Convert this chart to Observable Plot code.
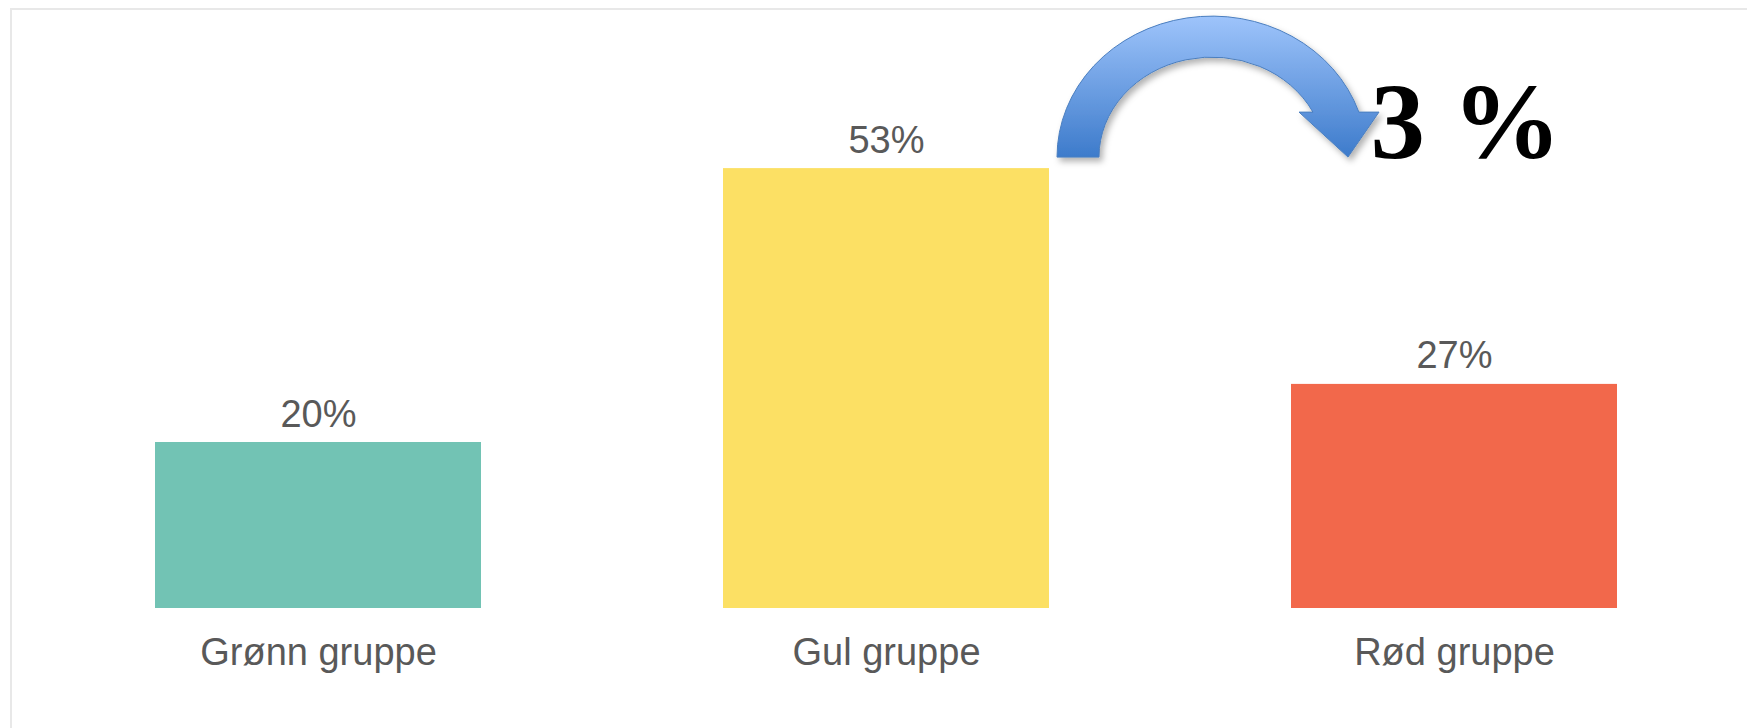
<!DOCTYPE html>
<html><head><meta charset="utf-8">
<script src="https://cdn.jsdelivr.net/npm/d3@7"></script>
<script src="https://cdn.jsdelivr.net/npm/@observablehq/plot@0.6"></script>
<style>
html,body{margin:0;padding:0;background:#fff;overflow:hidden;}
#wrap{position:relative;width:1747px;height:728px;overflow:hidden;}
#frame{position:absolute;left:10px;top:8px;width:1800px;height:800px;border-top:2px solid #e8e8e8;border-left:2px solid #e8e8e8;}
#chart{position:absolute;left:0;top:0;}
</style></head><body>
<div id="wrap"><div id="frame"></div><div id="chart"></div></div>
<script>
const groups = ["Grønn gruppe", "Gul gruppe", "Rød gruppe"];
const shares = [20, 53, 27];
const valueLabels = ["20%", "53%", "27%"];
const barColors = ["#72c3b4", "#fce064", "#f2684b"];
const changeLabel = ["3 %"];

const data = groups.map((g, i) => ({group: g, share: shares[i], label: valueLabels[i]}));
const annotation = [{group: "Rød gruppe", share: 53, label: changeLabel[0]}];

const plot = Plot.plot({
  width: 1747, height: 728,
  marginTop: 110, marginBottom: 120, marginLeft: 0, marginRight: 0,
  x: {domain: groups, range: [11, 1760], paddingInner: 0.4266, paddingOuter: 0.2515, label: null},
  y: {domain: [0, 60], axis: null},
  color: {domain: groups, range: barColors},
  style: {fontFamily: "'Liberation Sans', Arial, sans-serif", background: "transparent", overflow: "visible"},
  marks: [
    Plot.barY(data, {x: "group", y: "share", fill: "group"}),
    Plot.text(data, {x: "group", y: "share", text: "label", dy: -16, lineAnchor: "bottom", fontSize: 38, fill: "#595959"}),
    Plot.axisX({tickSize: 0, tickPadding: 30, fontSize: 38, color: "#595959", label: null}),
    Plot.text(annotation, {x: "group", y: "share", text: "label", dx: -84, dy: -11, textAnchor: "start", lineAnchor: "bottom",
      fontSize: 109, fontWeight: "bold", fontFamily: "'Liberation Serif', 'Times New Roman', serif", fill: "#000"})
  ]
});
document.getElementById("chart").appendChild(plot);

// curved block arrow from the yellow bar towards the red bar
const sx = plot.scale("x"), sy = plot.scale("y");
const ox = sx.apply("Gul gruppe") + sx.bandwidth;
const oy = sy.apply(53);
const cx = ox + 163, cy = oy - 11;
const rxO = 155, ryO = 141, rxI = 113, ryI = 100, rise = 45;
const xO = rxO * Math.sqrt(1 - (rise / ryO) ** 2), xI = rxI * Math.sqrt(1 - (rise / ryI) ** 2);
const svg = d3.select(plot);
const defs = svg.append("defs");
const grad = defs.append("linearGradient").attr("id", "arrowGrad")
  .attr("gradientUnits", "userSpaceOnUse").attr("x1", 0).attr("x2", 0).attr("y1", cy - ryO).attr("y2", cy);
grad.append("stop").attr("offset", "0%").attr("stop-color", "#9ec4fb");
grad.append("stop").attr("offset", "100%").attr("stop-color", "#3d7bcb");
const filt = defs.append("filter").attr("id", "arrowShadow").attr("x", "-20%").attr("y", "-20%").attr("width", "140%").attr("height", "140%");
filt.append("feDropShadow").attr("dx", 3).attr("dy", 4).attr("stdDeviation", 3).attr("flood-color", "#000").attr("flood-opacity", 0.3);
const p = [
  `M${cx - rxO},${cy}`,
  `A${rxO},${ryO} 0 0 1 ${cx + xO},${cy - rise}`,
  `L${cx + 167},${cy - rise}`,
  `L${cx + 136},${cy}`,
  `L${cx + 87},${cy - rise}`,
  `L${cx + xI},${cy - rise}`,
  `A${rxI},${ryI} 0 0 0 ${cx - rxI},${cy}`,
  "Z"
].join(" ");
svg.append("path").attr("d", p).attr("fill", "url(#arrowGrad)").attr("stroke", "#4a7ebf").attr("stroke-width", 1)
  .attr("filter", "url(#arrowShadow)");
</script>
</body></html>
